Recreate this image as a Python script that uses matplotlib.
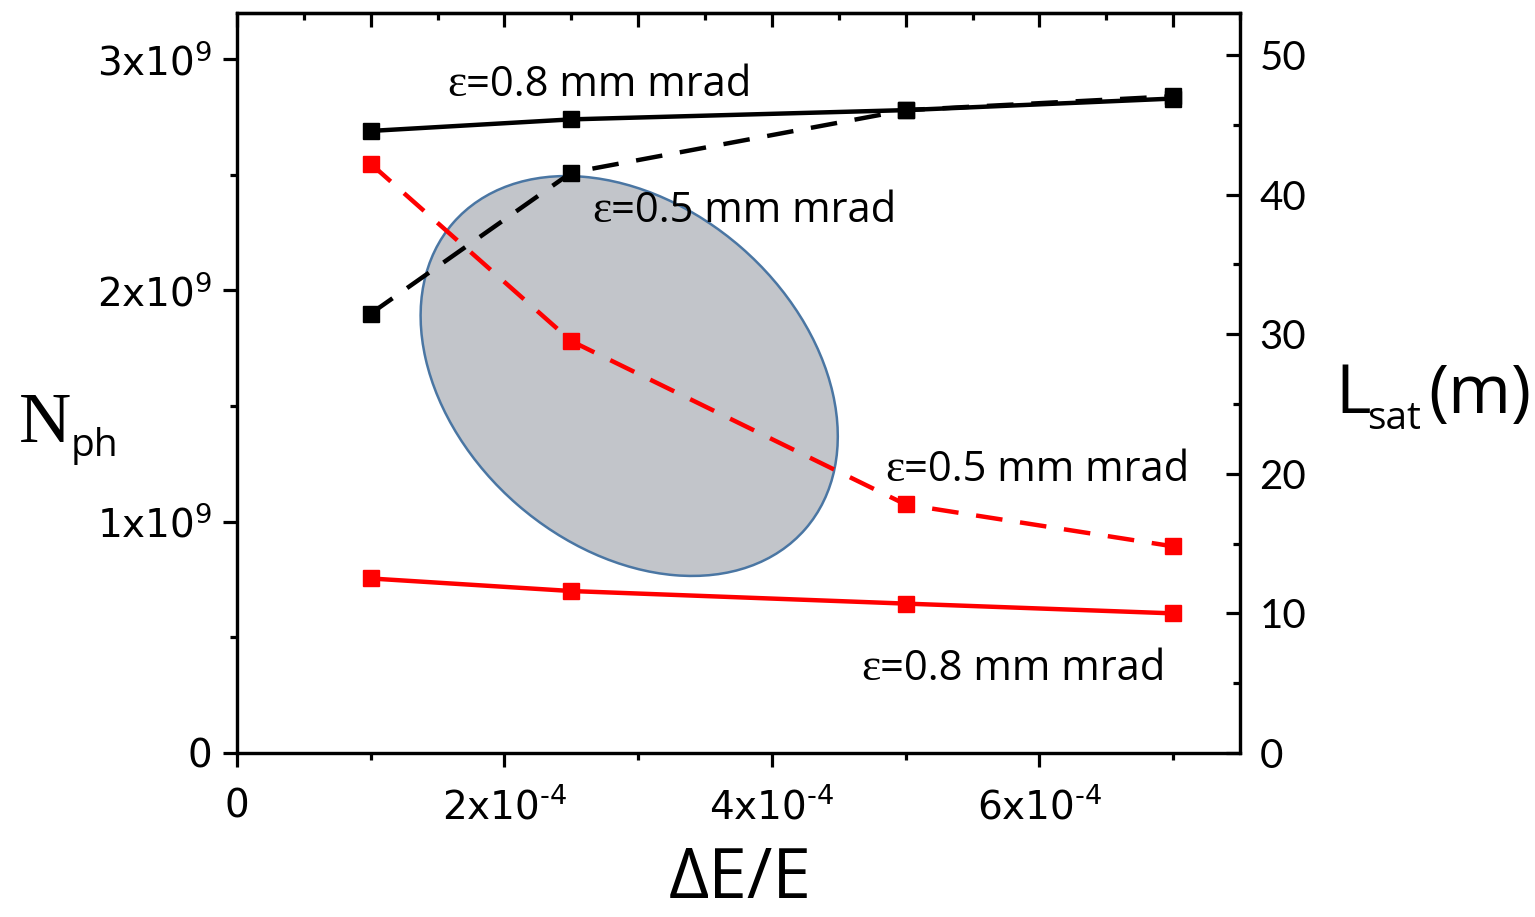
import matplotlib
matplotlib.use("Agg")
import matplotlib.pyplot as plt
from matplotlib.patches import Ellipse
from matplotlib.ticker import MultipleLocator
from matplotlib.transforms import Affine2D

# ---- data ----
delta_e = [1e-4, 2.5e-4, 5e-4, 7e-4]
nph_eps08 = [2.69e9, 2.74e9, 2.78e9, 2.83e9]
nph_eps05 = [1.90e9, 2.51e9, 2.78e9, 2.84e9]
lsat_eps05 = [42.2, 29.5, 17.8, 14.8]
lsat_eps08 = [12.5, 11.6, 10.7, 10.0]

x_ticks = [0, 2e-4, 4e-4, 6e-4]
x_ticklabels = ["0", "2x10$^{\\text{-}4}$", "4x10$^{\\text{-}4}$", "6x10$^{\\text{-}4}$"]
yl_ticks = [0, 1e9, 2e9, 3e9]
yl_ticklabels = ["0", "1x10$^{9}$", "2x10$^{9}$", "3x10$^{9}$"]
yr_ticks = [0, 10, 20, 30, 40, 50]
yr_ticklabels = ["0", "10", "20", "30", "40", "50"]

W, H = 1535, 917
fig = plt.figure(figsize=(W / 100, H / 100), dpi=100)
ax = fig.add_axes([237 / W, 1 - 753 / H, (1240 - 237) / W, (753 - 13) / H])
ax2 = ax.twinx()

ax.set_xlim(0, 7.5e-4)
ax.set_ylim(0, 3.2e9)
ax2.set_ylim(0, 53)

lw = 3.2
dash = (6, 4)
ms = 11.5
ax.plot(delta_e, nph_eps08, color="black", lw=lw, marker="s", ms=ms, zorder=5)
ax.plot(delta_e, nph_eps05, color="black", lw=lw, ls=(0, dash), marker="s", ms=ms, zorder=5)
ax2.plot(delta_e, lsat_eps05, color="red", lw=lw, ls=(0, dash), marker="s", ms=ms, zorder=5)
ax2.plot(delta_e, lsat_eps08, color="red", lw=lw, marker="s", ms=ms, zorder=5)

# ellipse (figure pixel coordinates)
pix = Affine2D().scale(1 / W, 1 / H) + fig.transFigure
ell = Ellipse((629.2, H - 376), width=466.6, height=340.9, angle=-41.0,
              facecolor="#C2C5CA", edgecolor="#4A76A3", lw=1.8,
              transform=pix, zorder=1, clip_on=False)
ax.add_patch(ell)

# spines / ticks
spine_lw = 2.3
for a in (ax, ax2):
    for s in a.spines.values():
        s.set_linewidth(spine_lw)

ax.set_xticks(x_ticks)
ax.set_xticklabels(x_ticklabels, fontsize=28, family="DejaVu Sans")
ax.xaxis.set_minor_locator(MultipleLocator(1e-4))
ax.set_yticks(yl_ticks)
ax.set_yticklabels(yl_ticklabels, fontsize=28, family="DejaVu Sans")
ax.yaxis.set_minor_locator(MultipleLocator(0.5e9))
ax.tick_params(which="major", direction="out", length=10, width=spine_lw,
               top=False, right=False)
ax.tick_params(which="minor", direction="out", length=5, width=spine_lw,
               top=False, right=False)
ax.tick_params(axis="x", which="major", pad=15)
ax.tick_params(axis="y", which="major", pad=8)

ax2.set_yticks(yr_ticks)
ax2.set_yticklabels(yr_ticklabels, fontsize=29, family="Lato")
ax2.yaxis.set_minor_locator(MultipleLocator(5))
ax2.tick_params(which="major", direction="in", length=10, width=spine_lw, pad=14)
ax2.tick_params(which="minor", direction="in", length=5, width=spine_lw)

sec = ax.secondary_xaxis("top")
sec.xaxis.set_major_locator(MultipleLocator(1e-4))
sec.xaxis.set_minor_locator(MultipleLocator(0.5e-4))
sec.tick_params(which="major", direction="in", length=10, width=spine_lw, labeltop=False)
sec.tick_params(which="minor", direction="in", length=5, width=spine_lw)
sec.spines["top"].set_linewidth(spine_lw)


def ftext(px, py, s, **kw):
    return fig.text(px / W, 1 - py / H, s, **kw)


renderer = fig.canvas.get_renderer()


def eps_label(px, py, rest, size=30):
    t = ftext(px, py, "ε", family="Liberation Serif", fontsize=size + 3,
              va="baseline", ha="left", zorder=10)
    w = t.get_window_extent(renderer=renderer).width
    ftext(px + w, py, rest, family=["Open Sans", "DejaVu Sans"], fontsize=size,
          va="baseline", ha="left", zorder=10)


eps_label(447, 96, "=0.8 mm mrad")
eps_label(592, 222, "=0.5 mm mrad")
eps_label(885, 481, "=0.5 mm mrad")
eps_label(861, 680, "=0.8 mm mrad")

# axis titles
ftext(19, 442, "N", family="Liberation Serif", fontsize=52, va="baseline", ha="left")
ftext(71, 456, "ph", family=["Open Sans", "DejaVu Sans"], fontsize=28, va="baseline", ha="left")

ftext(669, 898, "ΔE/E", family=["Open Sans", "DejaVu Sans"], fontsize=50, va="baseline", ha="left")

ftext(1335, 413, "L", family="Open Sans", fontsize=49, va="baseline", ha="left")
ftext(1367, 429, "sat", family="Open Sans", fontsize=28, va="baseline", ha="left")
ftext(1428, 413, "(m)", family="Open Sans", fontsize=49, va="baseline", ha="left")

fig.savefig("out.png", dpi=100)
